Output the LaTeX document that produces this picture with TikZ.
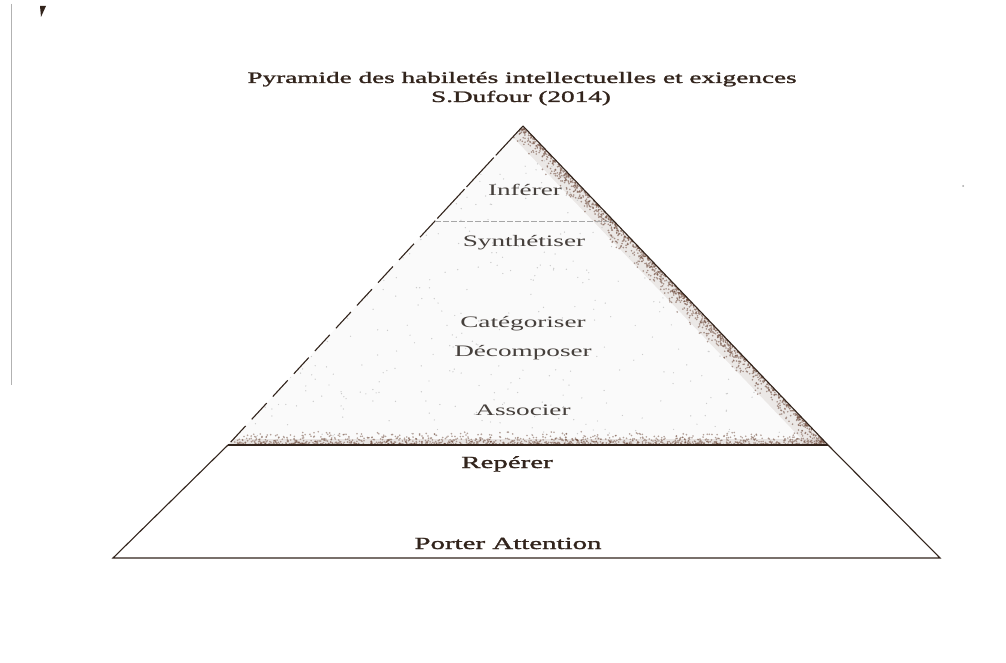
\documentclass[tikz,border=0pt]{standalone}
\usepackage{fontspec}
\setmainfont{Liberation Serif}
\newfontfamily\heavy[FakeBold=1.2]{Liberation Serif}
\usepackage{graphicx}
\definecolor{ink}{RGB}{50,36,28}
\definecolor{lightink}{RGB}{70,64,60}
\definecolor{smudge}{RGB}{110,75,60}
\newcommand\wide[1]{\scalebox{1.7}[1]{#1}}
\begin{document}
\begin{tikzpicture}[x=1pt,y=-1pt,
  edge/.style={draw=ink, line width=1.1pt},
  title/.style={anchor=base, inner sep=0pt, text=ink, font=\heavy\fontsize{16}{16}\selectfont},
  inlbl/.style={anchor=base, inner sep=0pt, text=lightink, font=\fontsize{16}{16}\selectfont},
  outlbl/.style={anchor=base, inner sep=0pt, text=ink, font=\heavy\fontsize{17}{17}\selectfont}]
\useasboundingbox (0,0) rectangle (1006,663);
\fill[white] (0,0) rectangle (1006,663);
% corner points
\coordinate (A) at (523,126);
\coordinate (L1) at (228,445);
\coordinate (R1) at (828,445);
\coordinate (BL) at (113,558);
\coordinate (BR) at (940,558);
\coordinate (Lt) at (435,221);
\coordinate (Rt) at (613,221);
% speckled upper part
\begin{scope}
  \clip (A) -- (L1) -- (R1) -- cycle;
  \fill[gray!4] (A) -- (L1) -- (R1) -- cycle;
  \draw[smudge, opacity=0.10, line width=30pt] (A) -- (R1);
  \draw[smudge, opacity=0.12, line width=12pt] (L1) -- (R1);
  \pgfmathsetseed{7}
  \foreach \i in {1,...,600} {
    \pgfmathsetmacro\px{228+rnd*600}
    \pgfmathsetmacro\py{126+rnd*319}
    \fill[gray!40] (\px,\py) circle (0.7pt);
  }
  \foreach \i in {1,...,1400} {
    \pgfmathsetmacro\tt{rnd}
    \pgfmathsetmacro\dd{rnd*rnd*24}
    \fill[smudge, opacity=0.55] ({523+\tt*305-\dd},{126+\tt*319}) circle (0.9pt);
  }
  \foreach \i in {1,...,1400} {
    \pgfmathsetmacro\px{228+rnd*600}
    \pgfmathsetmacro\dd{rnd*rnd*14}
    \fill[smudge, opacity=0.5] (\px,{445-\dd}) circle (0.9pt);
  }
\end{scope}
% outlines
\draw[edge] (A) -- (R1);
\draw[edge, dash pattern=on 40pt off 3pt] (A) -- (Lt);
\draw[edge, dash pattern=on 22pt off 9pt] (Lt) -- (L1);
\draw[draw=gray!70, line width=0.7pt, dash pattern=on 6pt off 2pt] (Lt) -- (Rt);
\draw[draw=ink, line width=2pt] (L1) -- (R1);
\draw[edge] (L1) -- (BL) -- (BR) -- (R1);
% scan marks
\draw[gray!60, line width=1pt] (11,4) -- (11,385);
\fill[ink] (40,6) -- (46,6) -- (41,17) -- cycle;
\fill[gray!70] (963,186) circle (1pt);
% texts
\node[title] (t1) at (522,83) {\wide{Pyramide des habiletés intellectuelles et exigences}};
\node[title] (t2) at (521,102) {\wide{S.Dufour (2014)}};
\node[inlbl] (inferer) at (525,196) {\wide{Inférer}};
\node[inlbl] (synth) at (524,246) {\wide{Synthétiser}};
\node[inlbl] (categ) at (523,327) {\wide{Catégoriser}};
\node[inlbl] (decomp) at (523,356) {\wide{Décomposer}};
\node[inlbl] (assoc) at (523,415) {\wide{Associer}};
\node[outlbl] (reperer) at (507,468) {\wide{Repérer}};
\node[outlbl] (porter) at (508,549) {\wide{Porter Attention}};
\end{tikzpicture}
\end{document}
